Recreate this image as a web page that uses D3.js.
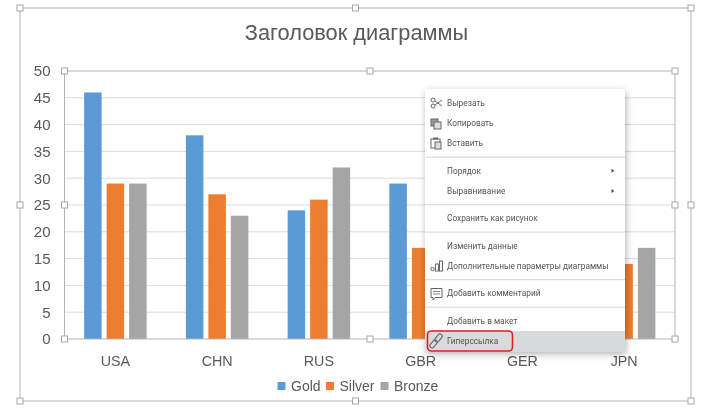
<!DOCTYPE html>
<html>
<head>
<meta charset="utf-8">
<script src="https://cdn.jsdelivr.net/npm/d3@7"></script>
<style>
  html, body { margin: 0; padding: 0; background: #fff; overflow: hidden; }
  svg { filter: blur(0.3px); }
  text { font-family: "Liberation Sans", Arial, sans-serif; }
  .menu text { font-family: Roboto, "Liberation Sans", sans-serif; font-size: 8.3px; fill: #555; }
</style>
</head>
<body>
<div id="chart"></div>
<script>
const title = "Заголовок диаграммы";
const countries = ["USA", "CHN", "RUS", "GBR", "GER", "JPN"];
const seriesNames = ["Gold", "Silver", "Bronze"];
const gold = [46, 38, 24, 29, 11, 7];
const silver = [29, 27, 26, 17, 19, 14];
const bronze = [29, 23, 32, 19, 14, 17];
const seriesValues = [gold, silver, bronze];
const colors = ["#5b9bd5", "#ed7d31", "#a5a5a5"];
const yTicks = [0, 5, 10, 15, 20, 25, 30, 35, 40, 45, 50];

// context menu, split in groups by the separators
const menuGroups = [
  ["Вырезать", "Копировать", "Вставить"],
  ["Порядок", "Выравнивание"],
  ["Сохранить как рисунок"],
  ["Изменить данные", "Дополнительные параметры диаграммы"],
  ["Добавить комментарий"],
  ["Добавить в макет", "Гиперссылка"]
];
const withArrow = ["Порядок", "Выравнивание"];

const width = 703, height = 413;
const plot = { left: 64.5, right: 675, top: 71, bottom: 339 };
const frame = { left: 20, right: 691, top: 8, bottom: 401 };

const svg = d3.select("#chart")
  .append("svg")
  .attr("width", width)
  .attr("height", height)
  .style("display", "block");

const defs = svg.append("defs");
const shadow = defs.append("filter").attr("id", "shadow")
  .attr("x", "-10%").attr("y", "-10%").attr("width", "120%").attr("height", "120%");
shadow.append("feDropShadow")
  .attr("dx", 1).attr("dy", 2).attr("stdDeviation", 3.5)
  .attr("flood-color", "#000").attr("flood-opacity", 0.3);

const x0 = d3.scaleBand()
  .domain(countries)
  .range([plot.left, plot.right])
  .paddingInner(0.386)
  .paddingOuter(0.193);

const x1 = d3.scaleBand()
  .domain(seriesNames)
  .range([0, x0.bandwidth()])
  .paddingInner(0.222);

const y = d3.scaleLinear()
  .domain([0, 50])
  .range([plot.bottom, plot.top]);

// selection frames
svg.append("rect")
  .attr("x", frame.left).attr("y", frame.top)
  .attr("width", frame.right - frame.left)
  .attr("height", frame.bottom - frame.top)
  .attr("fill", "#fff")
  .attr("stroke", "#b4b4b4");

svg.append("text")
  .attr("x", 356.5)
  .attr("y", 40)
  .attr("text-anchor", "middle")
  .attr("font-size", 21.8)
  .attr("fill", "#595959")
  .text(title);

// gridlines
svg.append("g")
  .selectAll("line")
  .data(yTicks.slice(1, -1))
  .join("line")
  .attr("x1", plot.left).attr("x2", plot.right)
  .attr("y1", d => y(d)).attr("y2", d => y(d))
  .attr("stroke", "#dcdcdc");

// bars
svg.append("g")
  .selectAll("g")
  .data(seriesNames)
  .join("g")
  .attr("fill", (d, i) => colors[i])
  .selectAll("rect")
  .data((d, i) => seriesValues[i].map((v, j) => ({ name: d, country: countries[j], value: v })))
  .join("rect")
  .attr("x", d => x0(d.country) + x1(d.name))
  .attr("y", d => y(d.value))
  .attr("width", x1.bandwidth())
  .attr("height", d => y(0) - y(d.value));

svg.append("rect")
  .attr("x", plot.left).attr("y", plot.top)
  .attr("width", plot.right - plot.left)
  .attr("height", plot.bottom - plot.top)
  .attr("fill", "none")
  .attr("stroke", "#b4b4b4");

// axes
const yAxis = svg.append("g")
  .attr("transform", `translate(${plot.left},0)`)
  .call(d3.axisLeft(y).tickValues(yTicks).tickSize(0).tickPadding(14));
const xAxis = svg.append("g")
  .attr("transform", `translate(0,${plot.bottom})`)
  .call(d3.axisBottom(x0).tickSize(0).tickPadding(16.5));
[yAxis, xAxis].forEach(a => {
  a.select(".domain").remove();
  a.selectAll("text")
    .attr("font-family", "Liberation Sans")
    .attr("fill", "#595959");
});
yAxis.selectAll("text").attr("font-size", 15);
xAxis.selectAll("text").attr("font-size", 14.3);

// legend
const legendX = d3.scaleOrdinal().domain(seriesNames).range([277.5, 326, 380.5]);
const legend = svg.append("g")
  .selectAll("g")
  .data(seriesNames)
  .join("g")
  .attr("transform", d => `translate(${legendX(d)},386)`);
legend.append("rect")
  .attr("y", -4).attr("width", 8).attr("height", 8)
  .attr("fill", (d, i) => colors[i]);
legend.append("text")
  .attr("x", 13.5)
  .attr("dy", "0.35em")
  .attr("font-size", 14)
  .attr("fill", "#595959")
  .text(d => d);

// resize handles
const handles = [
  [frame.left, frame.top], [355.5, frame.top], [frame.right, frame.top],
  [frame.left, 205], [frame.right, 205],
  [frame.left, frame.bottom], [355.5, frame.bottom], [frame.right, frame.bottom],
  [plot.left, plot.top], [370, plot.top], [plot.right, plot.top],
  [plot.left, 205], [plot.right, 205],
  [plot.left, plot.bottom], [370, plot.bottom], [plot.right, plot.bottom]
];
svg.append("g")
  .selectAll("rect")
  .data(handles)
  .join("rect")
  .attr("x", d => d[0] - 3).attr("y", d => d[1] - 3)
  .attr("width", 6).attr("height", 6)
  .attr("fill", "#fff")
  .attr("stroke", "#a8a8a8");

// context menu
const menu = svg.append("g").attr("class", "menu");
menu.append("rect")
  .attr("x", 425).attr("y", 89)
  .attr("width", 200).attr("height", 263)
  .attr("rx", 3)
  .attr("fill", "#fff")
  .attr("filter", "url(#shadow)");

const rowStep = 20.2, groupGap = 7.2;
let rowY = 103;
menuGroups.forEach((group, g) => {
  group.forEach((label, r) => {
    if (label === "Гиперссылка") {
      menu.append("rect")
        .attr("x", 425).attr("y", rowY - 10)
        .attr("width", 200).attr("height", 21)
        .attr("fill", "#d9dadb");
    }
    menu.append("text")
      .attr("x", 447).attr("y", rowY).attr("dy", "0.35em")
      .text(label);
    if (withArrow.includes(label)) {
      menu.append("path")
        .attr("d", `M611.5,${rowY - 2}l3,2l-3,2z`)
        .attr("fill", "#555");
    }
    if (r < group.length - 1) rowY += rowStep;
  });
  if (g < menuGroups.length - 1) {
    const sepY = rowY + (rowStep + groupGap) / 2;
    menu.append("line")
      .attr("x1", 425).attr("x2", 625)
      .attr("y1", sepY).attr("y2", sepY)
      .attr("stroke", "#d4d4d4");
    rowY += rowStep + groupGap;
  }
});

// red outline around the last item
menu.append("rect")
  .attr("x", 427.5).attr("y", 331)
  .attr("width", 85).attr("height", 20)
  .attr("rx", 4)
  .attr("fill", "none")
  .attr("stroke", "#dd1f26")
  .attr("stroke-width", 1.6);

// small menu icons
const icon = menu.append("g")
  .attr("fill", "none")
  .attr("stroke", "#666")
  .attr("stroke-width", 1);

// scissors
icon.append("circle").attr("cx", 433).attr("cy", 100).attr("r", 2);
icon.append("circle").attr("cx", 433).attr("cy", 106).attr("r", 2);
icon.append("path").attr("d", "M435,101L442,106M435,105L442,100");

// copy
icon.append("rect").attr("x", 431).attr("y", 119).attr("width", 7).attr("height", 7).attr("fill", "#999");
icon.append("rect").attr("x", 434).attr("y", 122).attr("width", 7).attr("height", 7).attr("fill", "#ddd");

// paste
icon.append("rect").attr("x", 431).attr("y", 139).attr("width", 9).attr("height", 9).attr("fill", "#fff");
icon.append("path").attr("d", "M433,138.5h5").attr("stroke-width", 2);
icon.append("rect").attr("x", 435).attr("y", 142).attr("width", 6).attr("height", 7).attr("fill", "#ddd");

// small chart
icon.append("circle").attr("cx", 432.5).attr("cy", 269).attr("r", 1.7);
icon.append("rect").attr("x", 435.5).attr("y", 264).attr("width", 3).attr("height", 7);
icon.append("rect").attr("x", 439.5).attr("y", 261).attr("width", 3).attr("height", 10);

// comment
icon.append("path").attr("d", "M431,288.5h11v9h-7l-2,2.5v-2.5h-2z");
icon.append("path").attr("d", "M433,291.5h7M433,294h7").attr("stroke-width", 0.8);

// link, two tilted chain pieces
icon.selectAll(".link")
  .data([[433.5, 344], [438.5, 338]])
  .join("rect")
  .attr("class", "link")
  .attr("x", -4.5).attr("y", -2.2)
  .attr("width", 9).attr("height", 4.4)
  .attr("rx", 2.2)
  .attr("transform", d => `translate(${d[0]},${d[1]}) rotate(-50)`)
  .attr("stroke-width", 1.1);
</script>
</body>
</html>
